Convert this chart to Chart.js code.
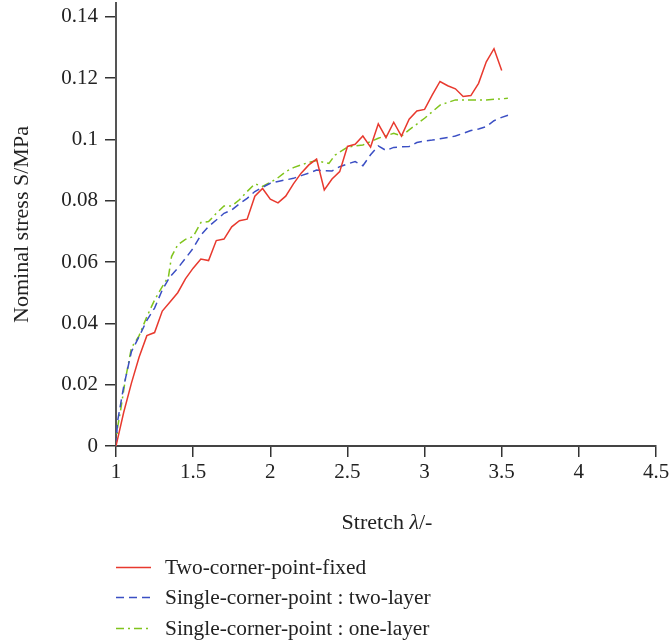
<!DOCTYPE html>
<html>
<head>
<meta charset="utf-8">
<script src="https://cdn.jsdelivr.net/npm/chart.js@4/dist/chart.umd.min.js"></script>
<style>
  html, body { margin: 0; padding: 0; background: #fff; }
  #wrap { position: relative; width: 669px; height: 642px; }
  #c { position: absolute; left: 0; top: 0; }
  .lbl { position: absolute; font-family: 'Liberation Serif', serif; font-size: 22px; color: #222; white-space: nowrap; }
  #xtitle { left: 0; width: 774px; text-align: center; top: 509px; }
  .leg { position: absolute; left: 116px; height: 28px; font-family: 'Liberation Serif', serif; font-size: 21.4px; color: #222; white-space: nowrap; }
  .leg svg { position: absolute; left: 0; top: 13px; }
  .leg span { position: absolute; left: 49px; top: 0; line-height: 28px; }
</style>
</head>
<body>
<div id="wrap">
  <canvas id="c" width="669" height="642"></canvas>
  <div id="xtitle" class="lbl">Stretch <i>λ</i>/-</div>
  <div class="leg" style="top:553px"><svg width="36" height="3"><line x1="0" y1="1.5" x2="35" y2="1.5" stroke="#e8392e" stroke-width="1.5"/></svg><span id="l0"></span></div>
  <div class="leg" style="top:583px"><svg width="36" height="3"><line x1="0" y1="1.5" x2="35" y2="1.5" stroke="#3b4fc4" stroke-width="1.5" stroke-dasharray="8 5"/></svg><span id="l1"></span></div>
  <div class="leg" style="top:614px"><svg width="36" height="3"><line x1="0" y1="1.5" x2="35" y2="1.5" stroke="#80c41c" stroke-width="1.5" stroke-dasharray="8 4 2 4"/></svg><span id="l2"></span></div>
</div>
<script>
const seriesNames = ['Two-corner-point-fixed', 'Single-corner-point : two-layer', 'Single-corner-point : one-layer'];

const redX = [1.00,1.05,1.10,1.15,1.20,1.25,1.30,1.35,1.40,1.45,1.50,1.55,1.60,1.65,1.70,1.75,1.80,1.85,1.90,1.95,2.00,2.05,2.10,2.15,2.20,2.25,2.30,2.35,2.40,2.45,2.50,2.55,2.60,2.65,2.70,2.75,2.80,2.85,2.90,2.95,3.00,3.05,3.10,3.15,3.20,3.25,3.30,3.35,3.40,3.45,3.50];
const redY = [0,0.011,0.0205,0.029,0.036,0.037,0.044,0.047,0.050,0.0545,0.058,0.061,0.0605,0.067,0.0675,0.0715,0.0735,0.074,0.0815,0.084,0.0805,0.0793,0.0815,0.0855,0.089,0.0917,0.0936,0.0835,0.0871,0.0895,0.0977,0.0984,0.1011,0.0975,0.1051,0.1006,0.1056,0.1011,0.1066,0.1093,0.1098,0.1145,0.1189,0.1175,0.1165,0.114,0.1143,0.1183,0.1253,0.1296,0.1225];

const blueX = [1.00,1.01,1.05,1.10,1.15,1.20,1.25,1.30,1.35,1.40,1.45,1.50,1.55,1.60,1.65,1.70,1.75,1.80,1.85,1.90,1.95,2.00,2.05,2.10,2.15,2.20,2.25,2.30,2.35,2.40,2.45,2.50,2.55,2.60,2.65,2.70,2.75,2.80,2.85,2.90,2.95,3.00,3.05,3.10,3.15,3.20,3.25,3.30,3.35,3.40,3.45,3.50,3.56];
const blueY = [0,0.008,0.0194,0.0308,0.0357,0.041,0.045,0.0509,0.0552,0.058,0.0612,0.0645,0.0688,0.0716,0.0737,0.0759,0.077,0.079,0.0808,0.083,0.0844,0.0857,0.0863,0.0868,0.0873,0.0882,0.089,0.090,0.0898,0.0897,0.0911,0.092,0.0928,0.0914,0.095,0.0979,0.0964,0.0974,0.0976,0.0977,0.099,0.0995,0.0998,0.1002,0.1006,0.1011,0.102,0.1029,0.1034,0.1042,0.1061,0.1072,0.1082];

const greenX = [1.00,1.01,1.03,1.06,1.10,1.15,1.20,1.25,1.30,1.34,1.36,1.40,1.45,1.50,1.55,1.60,1.65,1.70,1.75,1.80,1.85,1.90,1.95,2.00,2.05,2.10,2.15,2.20,2.25,2.30,2.35,2.38,2.42,2.50,2.60,2.70,2.80,2.85,2.90,3.00,3.10,3.20,3.30,3.40,3.54];
const greenY = [0,0.006,0.0117,0.0215,0.032,0.036,0.0422,0.0476,0.052,0.0552,0.0618,0.0656,0.0674,0.0683,0.0729,0.0732,0.0759,0.0783,0.0783,0.0803,0.083,0.0855,0.0847,0.086,0.0875,0.0895,0.0908,0.0917,0.0925,0.0931,0.0925,0.0922,0.0949,0.0975,0.0982,0.1004,0.102,0.1011,0.1031,0.1069,0.1112,0.1129,0.1129,0.1129,0.1134];

const xTicks = [1, 1.5, 2, 2.5, 3, 3.5, 4, 4.5];
const xTickLabels = ['1', '1.5', '2', '2.5', '3', '3.5', '4', '4.5'];
const yTicks = [0, 0.02, 0.04, 0.06, 0.08, 0.1, 0.12, 0.14];
const yTickLabels = ['0', '0.02', '0.04', '0.06', '0.08', '0.1', '0.12', '0.14'];

const xTitle = 'Stretch λ/-';
const yTitle = 'Nominal stress S/MPa';

document.getElementById('l0').textContent = seriesNames[0];
document.getElementById('l1').textContent = seriesNames[1];
document.getElementById('l2').textContent = seriesNames[2];

const pts = (xs, ys) => xs.map((x, i) => ({ x: x, y: ys[i] }));
const FONT = { family: "'Liberation Serif', serif", size: 21 };
const TFONT = { family: "'Liberation Serif', serif", size: 22 };

new Chart(document.getElementById('c'), {
  type: 'line',
  data: {
    datasets: [
      { label: seriesNames[0], data: pts(redX, redY), borderColor: '#e8392e', borderWidth: 1.5, pointRadius: 0, tension: 0, fill: false },
      { label: seriesNames[1], data: pts(blueX, blueY), borderColor: '#3b4fc4', borderWidth: 1.5, borderDash: [8, 5], pointRadius: 0, tension: 0, fill: false },
      { label: seriesNames[2], data: pts(greenX, greenY), borderColor: '#80c41c', borderWidth: 1.5, borderDash: [8, 4, 2, 4], pointRadius: 0, tension: 0, fill: false }
    ]
  },
  options: {
    responsive: false,
    animation: false,
    layout: { padding: { left: 0, top: 3, right: 13, bottom: 0 } },
    plugins: { legend: { display: false }, tooltip: { enabled: false } },
    scales: {
      x: {
        type: 'linear',
        min: 1, max: 4.5,
        afterFit: s => { s.height = 196; s.paddingLeft = 0; s.paddingRight = 0; },
        afterBuildTicks: s => { s.ticks = xTicks.map(v => ({ value: v })); },
        border: { display: true, color: '#444', width: 2 },
        grid: { display: true, drawOnChartArea: false, drawTicks: true, tickLength: 11, color: '#333', lineWidth: 1.5 },
        ticks: { font: FONT, color: '#222', padding: 3, maxRotation: 0,
          callback: (v) => { const i = xTicks.indexOf(v); return i >= 0 ? xTickLabels[i] : ''; } },
        title: { display: false, text: xTitle }
      },
      y: {
        type: 'linear',
        min: 0, max: 0.1445,
        afterFit: s => { s.width = 116; s.paddingTop = 0; s.paddingBottom = 0; },
        afterBuildTicks: s => { s.ticks = yTicks.map(v => ({ value: v })); },
        border: { display: true, color: '#555', width: 2 },
        grid: { display: true, drawOnChartArea: false, drawTicks: true, tickLength: 11, color: '#333', lineWidth: 1.5 },
        ticks: { font: FONT, color: '#222', padding: 7,
          callback: (v) => { const i = yTicks.findIndex(t => Math.abs(t - v) < 1e-9); return i >= 0 ? yTickLabels[i] : ''; } },
        title: { display: true, text: yTitle, font: TFONT, color: '#222', padding: { top: 9, bottom: 0 } }
      }
    }
  }
});
</script>
</body>
</html>
